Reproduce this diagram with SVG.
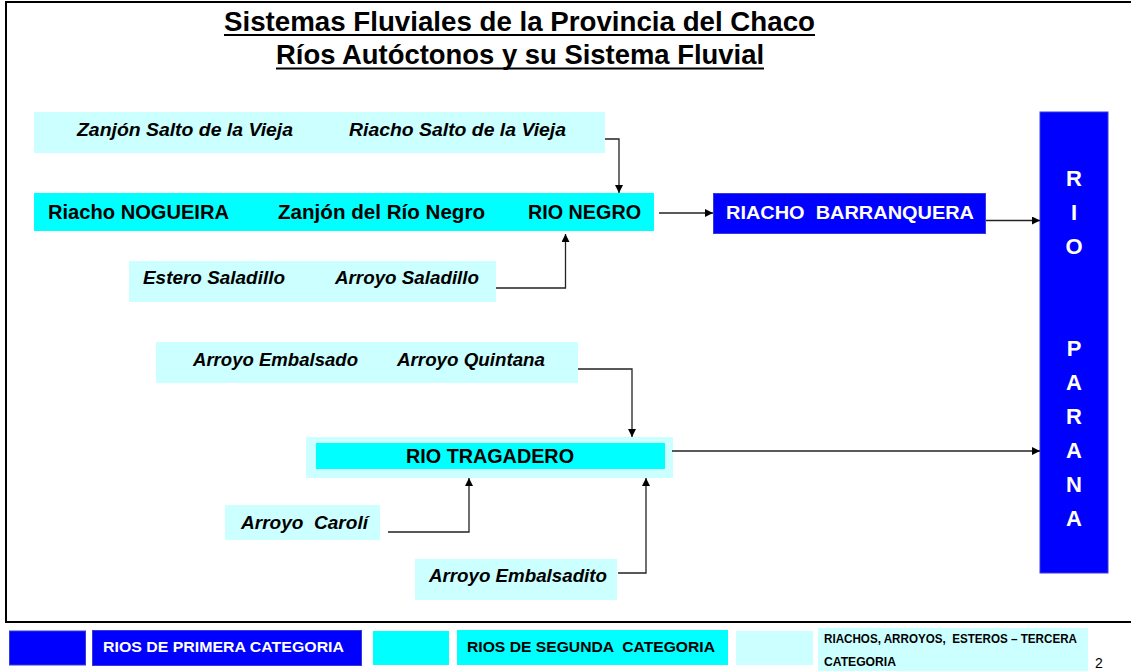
<svg xmlns="http://www.w3.org/2000/svg" width="1131" height="671" viewBox="0 0 1131 671">
<defs>
<marker id="arr" viewBox="0 0 10 10" refX="10" refY="5" markerWidth="10" markerHeight="8" markerUnits="userSpaceOnUse" orient="auto">
<path d="M0,0 L10,5 L0,10 z" fill="#000"/>
</marker>
<style>
.t{font-family:"Liberation Sans",Arial,sans-serif;font-weight:bold}
.it{font-family:"Liberation Sans",Arial,sans-serif;font-weight:bold;font-style:italic;font-size:19px;fill:#000}
.b{font-family:"Liberation Sans",Arial,sans-serif;font-weight:bold;font-size:20px;fill:#000}
.w{font-family:"Liberation Sans",Arial,sans-serif;font-weight:bold;fill:#fff}
.lc{fill:#CCFFFF}
.cy{fill:#00FFFF}
.bl{fill:#0000FF;stroke:#3a3ad8;stroke-width:1}
.c{fill:none;stroke:#222;stroke-width:1.3;marker-end:url(#arr)}
</style>
</defs>
<rect width="1131" height="671" fill="#fff"/>
<rect x="6" y="2" width="1140" height="620" fill="none" stroke="#000" stroke-width="2"/>
<g id="title">
<text class="t" x="224" y="31" font-size="27.5" textLength="591" lengthAdjust="spacingAndGlyphs">Sistemas Fluviales de la Provincia del Chaco</text>
<line x1="224" y1="35" x2="815" y2="35" stroke="#000" stroke-width="2"/>
<text class="t" x="276" y="64" font-size="27.5" textLength="488" lengthAdjust="spacingAndGlyphs">Ríos Autóctonos y su Sistema Fluvial</text>
<line x1="276" y1="68.5" x2="764" y2="68.5" stroke="#000" stroke-width="2"/>
</g>
<g id="salto-vieja">
<rect class="lc" x="34" y="112" width="571" height="41"/>
<text class="it" x="77" y="136" textLength="216" lengthAdjust="spacingAndGlyphs">Zanjón Salto de la Vieja</text>
<text class="it" x="349" y="136" textLength="217" lengthAdjust="spacingAndGlyphs">Riacho Salto de la Vieja</text>
</g>
<g id="rio-negro">
<rect class="cy" x="34" y="193" width="620" height="38"/>
<text class="b" x="48" y="219" textLength="181" lengthAdjust="spacingAndGlyphs">Riacho NOGUEIRA</text>
<text class="b" x="278" y="219" textLength="207" lengthAdjust="spacingAndGlyphs">Zanjón del Río Negro</text>
<text class="b" x="528" y="219" textLength="113" lengthAdjust="spacingAndGlyphs">RIO NEGRO</text>
</g>
<g id="saladillo">
<rect class="lc" x="129" y="261" width="367" height="41"/>
<text class="it" x="143" y="284" textLength="142" lengthAdjust="spacingAndGlyphs">Estero Saladillo</text>
<text class="it" x="335" y="284" textLength="144" lengthAdjust="spacingAndGlyphs">Arroyo Saladillo</text>
</g>
<g id="barranquera">
<rect class="bl" x="713.5" y="193.5" width="272" height="40"/>
<text class="w" x="726" y="219" font-size="18" textLength="248" lengthAdjust="spacingAndGlyphs" xml:space="preserve">RIACHO  BARRANQUERA</text>
</g>
<g id="parana">
<rect class="bl" x="1040" y="112" width="68" height="461"/>
<g class="w" font-size="22" text-anchor="middle">
<text x="1074" y="186">R</text>
<text x="1074" y="220">I</text>
<text x="1074" y="254">O</text>
<text x="1074" y="356">P</text>
<text x="1074" y="390">A</text>
<text x="1074" y="424">R</text>
<text x="1074" y="458">A</text>
<text x="1074" y="492">N</text>
<text x="1074" y="526">A</text>
</g>
</g>
<g id="embalsado">
<rect class="lc" x="156" y="342" width="422" height="41"/>
<text class="it" x="193" y="366" textLength="165" lengthAdjust="spacingAndGlyphs">Arroyo Embalsado</text>
<text class="it" x="397" y="366" textLength="148" lengthAdjust="spacingAndGlyphs">Arroyo Quintana</text>
</g>
<g id="tragadero">
<rect class="lc" x="306" y="437" width="367" height="41"/>
<rect class="cy" x="316" y="443" width="349" height="26"/>
<text class="b" x="406" y="463" textLength="168" lengthAdjust="spacingAndGlyphs">RIO TRAGADERO</text>
</g>
<g id="caroli">
<rect class="lc" x="225" y="505" width="155" height="35"/>
<text class="it" x="241" y="529" textLength="127" lengthAdjust="spacingAndGlyphs" xml:space="preserve">Arroyo  Carolí</text>
</g>
<g id="embalsadito">
<rect class="lc" x="415" y="559" width="202" height="41"/>
<text class="it" x="429" y="582" textLength="178" lengthAdjust="spacingAndGlyphs">Arroyo Embalsadito</text>
</g>
<g id="connectors">
<path class="c" d="M605,139 H619 V193"/>
<path class="c" d="M659,213 H713"/>
<path class="c" d="M986,220.5 H1040"/>
<path class="c" d="M496,288 H565.5 V234"/>
<path class="c" d="M578,369 H632 V437"/>
<path class="c" d="M672,451 H1040"/>
<path class="c" d="M388,532 H469 V478"/>
<path class="c" d="M618,573 H646 V478"/>
</g>
<g id="legend">
<rect class="bl" x="9.5" y="631" width="76" height="34"/>
<rect class="bl" x="92.5" y="630.5" width="269" height="35"/>
<text class="w" x="103" y="652" font-size="15" textLength="241" lengthAdjust="spacingAndGlyphs">RIOS DE PRIMERA CATEGORIA</text>
<rect class="cy" x="373" y="631" width="76" height="34"/>
<rect class="cy" x="457" y="630" width="271" height="35"/>
<text class="t" x="467" y="652" font-size="15" fill="#000" textLength="248" lengthAdjust="spacingAndGlyphs" xml:space="preserve">RIOS DE SEGUNDA  CATEGORIA</text>
<rect class="lc" x="736" y="631" width="77" height="34"/>
<rect class="lc" x="818" y="628" width="270" height="43"/>
<text class="t" x="824" y="643" font-size="13" fill="#000" textLength="253" lengthAdjust="spacingAndGlyphs" xml:space="preserve">RIACHOS, ARROYOS,  ESTEROS – TERCERA</text>
<text class="t" x="824" y="666" font-size="13" fill="#000" textLength="72" lengthAdjust="spacingAndGlyphs">CATEGORIA</text>
<text x="1095" y="668" font-family="Liberation Sans,sans-serif" font-size="14" fill="#000">2</text>
</g>
</svg>
